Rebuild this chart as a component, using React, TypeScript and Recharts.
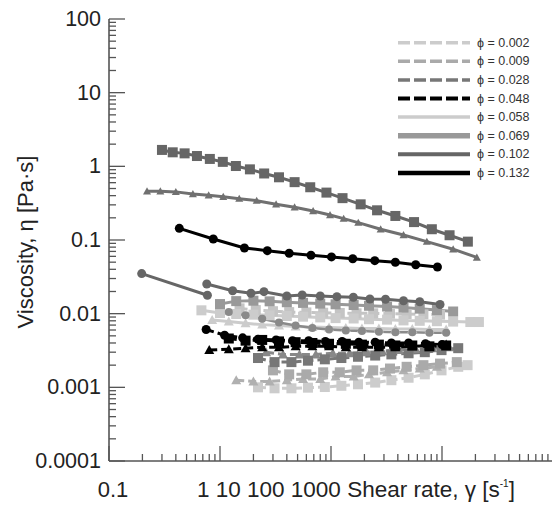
import React from 'react';
import { LineChart, Line, XAxis, YAxis, Legend } from 'recharts';

// shear rate [1/s], viscosity [Pa s]
const phi0102Squares: [number, number][] = [
  [0.3, 1.67], [0.375, 1.55], [0.48, 1.5], [0.62, 1.38], [0.81, 1.26], [1.06, 1.15], [1.39, 1.01],
  [1.86, 0.91], [2.5, 0.8], [3.4, 0.71], [4.7, 0.61], [6.5, 0.52], [9.1, 0.44], [12.7, 0.37],
  [18.5, 0.305], [26, 0.253], [38, 0.212], [56, 0.175], [81, 0.14], [117, 0.116], [171, 0.095],
];
const phi0102Triangles: [number, number][] = [
  [0.22, 0.46], [0.29, 0.46], [0.4, 0.45], [0.57, 0.42], [0.79, 0.405], [1.07, 0.387], [1.49, 0.364],
  [2.14, 0.342], [3.2, 0.305], [4.7, 0.278], [6.9, 0.248], [9.8, 0.218], [13, 0.195], [17.6, 0.172],
  [28, 0.14], [45, 0.117], [73, 0.095], [126, 0.075], [206, 0.058],
];
const phi0132Circles: [number, number][] = [
  [0.43, 0.144], [0.87, 0.103], [1.66, 0.078], [2.67, 0.0716], [4.2, 0.066], [6.6, 0.062],
  [10.1, 0.059], [15.7, 0.0557], [24.8, 0.0524], [38, 0.0498], [58, 0.0462], [91, 0.043],
];
const phi0102CirclesA: [number, number][] = [[0.197, 0.035], [0.77, 0.0178]];
const phi0102CirclesB: [number, number][] = [
  [0.76, 0.0253], [1.3, 0.0205], [1.9, 0.0189], [2.49, 0.0199], [4.0, 0.0174], [5.5, 0.0179],
  [8.0, 0.0174], [11.3, 0.017], [15.9, 0.0167], [22.4, 0.0158], [31, 0.0157], [45, 0.015],
  [63, 0.0145], [96, 0.0133],
];
const phi0069Squares: [number, number][] = [
  [1.0, 0.0135], [1.4, 0.0148], [2.0, 0.015], [2.8, 0.0147], [4.0, 0.0143], [5.6, 0.014], [8, 0.0137],
  [11, 0.0134], [16, 0.0131], [22, 0.0128], [32, 0.0125], [45, 0.0121], [63, 0.0117], [90, 0.0112],
  [126, 0.0107],
];
const phi0069Circles: [number, number][] = [
  [1.2, 0.0105], [1.7, 0.0095], [2.4, 0.0085], [3.4, 0.0076], [4.8, 0.0069], [6.8, 0.0064],
  [9.6, 0.0061], [13.6, 0.0059], [19, 0.0058], [27, 0.0057], [38, 0.0056], [54, 0.0056],
  [77, 0.0055], [109, 0.0055],
];
const phi0058Squares: [number, number][] = [
  [0.68, 0.0111], [1.0, 0.0102], [1.4, 0.0099], [2.0, 0.0097], [2.8, 0.0095], [4.0, 0.0093],
  [5.6, 0.0091], [8, 0.0089], [11, 0.0087], [16, 0.0086], [22, 0.0084], [32, 0.0083], [45, 0.0081],
  [63, 0.008], [90, 0.0079], [126, 0.0078], [180, 0.0077], [215, 0.0077],
];
const phi0058Triangles: [number, number][] = [
  [0.85, 0.0082], [1.2, 0.0078], [1.7, 0.0074], [2.4, 0.0071], [3.4, 0.0069], [4.8, 0.0067],
  [6.8, 0.0066], [9.6, 0.0065], [13.6, 0.0064], [19, 0.0063], [27, 0.0063], [38, 0.0062],
  [54, 0.0062], [77, 0.0061], [109, 0.0061],
];
const phi0009SquaresHigh: [number, number][] = [
  [1.5, 0.0118], [2.1, 0.0112], [3.0, 0.0108], [4.2, 0.0105], [6.0, 0.0104], [8.5, 0.0103],
  [12, 0.0102], [17, 0.0101], [24, 0.0101], [34, 0.01], [48, 0.0099], [68, 0.0098], [96, 0.0097],
];
const phi0048Circles: [number, number][] = [
  [0.75, 0.0061], [1.1, 0.0051], [1.6, 0.0047], [2.2, 0.0045], [3.2, 0.0044], [4.5, 0.0043],
  [6.3, 0.0043], [8.9, 0.0042], [12.6, 0.0042], [17.8, 0.0041], [25, 0.0041], [35, 0.004],
  [50, 0.004], [71, 0.0039], [100, 0.0038],
];
const phi0048Squares: [number, number][] = [
  [1.2, 0.0046], [1.7, 0.0043], [2.4, 0.0044], [3.4, 0.0042], [4.8, 0.0041], [6.8, 0.004],
  [9.6, 0.0039], [13.6, 0.0039], [19, 0.0038], [27, 0.0038], [38, 0.0037], [54, 0.0037],
  [77, 0.0036], [109, 0.0037],
];
const phi0048Triangles: [number, number][] = [
  [0.8, 0.0032], [1.2, 0.0033], [1.7, 0.0034], [2.4, 0.0035], [3.4, 0.0035], [4.8, 0.0036],
  [6.8, 0.0036], [9.6, 0.0036], [13.6, 0.0035], [19, 0.0035], [27, 0.0035], [38, 0.0035],
  [54, 0.0036], [77, 0.0037], [109, 0.0038],
];
const phi0028Squares: [number, number][] = [
  [2.2, 0.0025], [3.1, 0.0022], [4.4, 0.0022], [6.2, 0.0023], [8.8, 0.0024], [12.4, 0.0025],
  [17.5, 0.0026], [25, 0.0027], [35, 0.0028], [50, 0.0029], [70, 0.003], [99, 0.0032], [140, 0.0034],
];
const phi0028Triangles: [number, number][] = [
  [2.6, 0.003], [3.7, 0.0028], [5.2, 0.0028], [7.3, 0.0028], [10.4, 0.0029], [14.7, 0.0029],
  [21, 0.003], [29, 0.0031], [41, 0.0032], [58, 0.0033], [82, 0.0034], [116, 0.0035],
];
const phi0009Squares: [number, number][] = [
  [3.0, 0.0017], [4.2, 0.0015], [6.0, 0.0015], [8.5, 0.0016], [12, 0.0016], [17, 0.0017],
  [24, 0.0017], [34, 0.0018], [48, 0.0019], [68, 0.002], [96, 0.0021], [136, 0.0022],
];
const phi0009Triangles: [number, number][] = [
  [1.4, 0.00125], [2.0, 0.0012], [2.8, 0.0012], [4.0, 0.00125], [5.6, 0.0013], [8, 0.0013],
  [11, 0.0014], [16, 0.0014], [22, 0.0015], [32, 0.0016], [45, 0.0017], [63, 0.0018], [90, 0.0019],
];
const phi0002Squares: [number, number][] = [
  [2.2, 0.001], [3.1, 0.00097], [4.4, 0.00097], [6.2, 0.00099], [8.8, 0.00101], [12.4, 0.00105],
  [17.5, 0.0011], [25, 0.00116], [35, 0.00125], [50, 0.00135], [70, 0.0015], [99, 0.0017],
  [140, 0.0019], [170, 0.002],
];

const legendLabels = ['ϕ = 0.002', 'ϕ = 0.009', 'ϕ = 0.028', 'ϕ = 0.048', 'ϕ = 0.058', 'ϕ = 0.069', 'ϕ = 0.102', 'ϕ = 0.132'];
const xMajorTicks = [0.1, 1, 10, 100, 1000];
const yMajorTicks = [0.0001, 0.001, 0.01, 0.1, 1, 10, 100];
const yTickLabels = ['0.0001', '0.001', '0.01', '0.1', '1', '10', '100'];

const legendStyles = [
  { color: '#cccccc', dash: '12 4', width: 3.5 },
  { color: '#aaaaaa', dash: '12 4', width: 3.5 },
  { color: '#777777', dash: '12 4', width: 3.5 },
  { color: '#000000', dash: '12 4', width: 4 },
  { color: '#cccccc', dash: undefined, width: 3.5 },
  { color: '#999999', dash: undefined, width: 5.5 },
  { color: '#666666', dash: undefined, width: 4 },
  { color: '#000000', dash: undefined, width: 4.5 },
];

const withMinors = (majors: number[]) => {
  const out: number[] = [];
  majors.forEach((m, i) => {
    out.push(m);
    if (i < majors.length - 1) for (let k = 2; k <= 9; k++) out.push(+(m * k).toPrecision(3));
  });
  return out;
};
const xTicks = withMinors(xMajorTicks);
const yTicks = withMinors(yMajorTicks);
const isMajor = (v: number) => Math.abs(Math.log10(v) - Math.round(Math.log10(v))) < 1e-6;

const AXIS = '#555';
const FONT = '"Liberation Sans", Arial, sans-serif';

const toPts = (d: [number, number][]) => d.map(([x, y]) => ({ x, y }));

type Series = { data: [number, number][]; color: string; dash?: string; width: number; marker: 'sq' | 'tri' | 'circ'; size: number };

const series: Series[] = [
  { data: phi0002Squares, color: '#cccccc', dash: '8 4', width: 3, marker: 'sq', size: 10 },
  { data: phi0009Triangles, color: '#b0b0b0', dash: '8 4', width: 3, marker: 'tri', size: 10 },
  { data: phi0009Squares, color: '#aaaaaa', dash: '8 4', width: 3, marker: 'sq', size: 10 },
  { data: phi0028Triangles, color: '#888888', dash: '8 4', width: 3, marker: 'tri', size: 10 },
  { data: phi0028Squares, color: '#777777', dash: '8 4', width: 3, marker: 'sq', size: 10 },
  { data: phi0058Triangles, color: '#cccccc', width: 3, marker: 'tri', size: 10 },
  { data: phi0009SquaresHigh, color: '#c4c4c4', dash: '8 4', width: 3, marker: 'sq', size: 10 },
  { data: phi0058Squares, color: '#cccccc', width: 3, marker: 'sq', size: 10 },
  { data: phi0069Circles, color: '#8a8a8a', width: 2.5, marker: 'circ', size: 8 },
  { data: phi0069Squares, color: '#999999', width: 3, marker: 'sq', size: 10 },
  { data: phi0048Triangles, color: '#000000', dash: '8 4', width: 3, marker: 'tri', size: 10 },
  { data: phi0048Squares, color: '#000000', dash: '8 4', width: 3, marker: 'sq', size: 10 },
  { data: phi0048Circles, color: '#000000', dash: '8 4', width: 3, marker: 'circ', size: 9 },
  { data: phi0102CirclesA, color: '#666666', width: 3, marker: 'circ', size: 9 },
  { data: phi0102CirclesB, color: '#666666', width: 3, marker: 'circ', size: 9 },
  { data: phi0102Triangles, color: '#707070', width: 3, marker: 'tri', size: 8 },
  { data: phi0102Squares, color: '#666666', width: 3, marker: 'sq', size: 10 },
  { data: phi0132Circles, color: '#000000', width: 3, marker: 'circ', size: 9 },
];

const makeDot = (s: Series) => (p: any) => {
  const { cx, cy, index } = p;
  const h = s.size / 2;
  if (cx == null || cy == null) return <g key={index} />;
  if (s.marker === 'sq') return <rect key={index} x={cx - h} y={cy - h} width={s.size} height={s.size} fill={s.color} />;
  if (s.marker === 'tri')
    return <polygon key={index} points={`${cx},${cy - h} ${cx + h},${cy + h * 0.8} ${cx - h},${cy + h * 0.8}`} fill={s.color} />;
  return <circle key={index} cx={cx} cy={cy} r={h} fill={s.color} />;
};

const BottomTick = ({ x, y, payload }: any) => {
  const major = isMajor(payload.value);
  return (
    <g>
      <line x1={x} x2={x} y1={y} y2={y - (major ? 15 : 7)} stroke={AXIS} strokeWidth={1.3} />
      {payload.value === 0.1 && (
        <text x={x + 4} y={y + 36} textAnchor="middle" fontSize={22} fill="#222" fontFamily={FONT}>0.1</text>
      )}
    </g>
  );
};

const TopTick = ({ x, y, payload }: any) => (
  <line x1={x} x2={x} y1={y} y2={y + (isMajor(payload.value) ? 15 : 7)} stroke={AXIS} strokeWidth={1.3} />
);

const LeftTick = ({ x, y, payload }: any) => {
  const major = isMajor(payload.value);
  const idx = yMajorTicks.findIndex((v) => Math.abs(v - payload.value) < v * 1e-6);
  return (
    <g>
      <line x1={x} x2={x + (major ? 16 : 7)} y1={y} y2={y} stroke={AXIS} strokeWidth={1.3} />
      {idx >= 0 && (
        <text x={x - 8} y={y} textAnchor="end" dominantBaseline="central" fontSize={21.5} fill="#222" fontFamily={FONT}>
          {yTickLabels[idx]}
        </text>
      )}
    </g>
  );
};

const RightTick = ({ x, y, payload }: any) => (
  <line x1={x} x2={x - (isMajor(payload.value) ? 15 : 7)} y1={y} y2={y} stroke={AXIS} strokeWidth={1.3} />
);

const XLabel = ({ viewBox }: any) => (
  <text x={viewBox.x + 88} y={viewBox.y + 36} fontSize={22.5} fill="#222" fontFamily={FONT}>
    1 10 100 1000 Shear rate, γ [s
    <tspan fontSize={10} dy={-10}>-1</tspan>
    <tspan dy={10}>]</tspan>
  </text>
);

const YLabel = () => (
  <text x={25} y={242} transform="rotate(-90 25 242)" textAnchor="middle" dominantBaseline="central" fontSize={22} fill="#222" fontFamily={FONT}>
    Viscosity, η [Pa·s]
  </text>
);

const renderLegend = () => (
  <svg width={140} height={150}>
    {legendLabels.map((label, i) => {
      const st = legendStyles[i];
      const y = 8.7 + i * 18.6;
      return (
        <g key={label}>
          <line x1={0} x2={72} y1={y} y2={y} stroke={st.color} strokeWidth={st.width} strokeDasharray={st.dash} />
          <text x={79} y={y} dominantBaseline="central" fontSize={12.5} fill="#333" fontFamily={FONT}>{label}</text>
        </g>
      );
    })}
  </svg>
);

export default function App() {
  return (
    <div style={{ position: 'absolute', left: 0, top: 0, width: 552, height: 505, overflow: 'hidden', background: '#fff' }}>
      <LineChart width={560} height={505} margin={{ top: 19, right: 7, bottom: 0, left: 0 }}>
        <XAxis
          dataKey="x"
          type="number"
          scale="log"
          domain={[0.1, 1000]}
          allowDataOverflow
          ticks={xTicks}
          interval={0}
          height={44}
          tickSize={0}
          tickMargin={0}
          tick={<BottomTick />}
          tickLine={false}
          axisLine={{ stroke: AXIS, strokeWidth: 1.6 }}
          label={<XLabel />}
        />
        <XAxis
          xAxisId="top"
          orientation="top"
          dataKey="x"
          type="number"
          scale="log"
          domain={[0.1, 1000]}
          allowDataOverflow
          ticks={xTicks}
          interval={0}
          height={0}
          tickSize={0}
          tickMargin={0}
          tick={<TopTick />}
          tickLine={false}
          axisLine={{ stroke: AXIS, strokeWidth: 1.6 }}
        />
        <YAxis
          type="number"
          scale="log"
          domain={[0.0001, 100]}
          allowDataOverflow
          ticks={yTicks}
          interval={0}
          width={109}
          tickSize={0}
          tickMargin={0}
          tick={<LeftTick />}
          tickLine={false}
          axisLine={{ stroke: AXIS, strokeWidth: 1.6 }}
          label={<YLabel />}
        />
        <YAxis
          yAxisId="right"
          orientation="right"
          type="number"
          scale="log"
          domain={[0.0001, 100]}
          allowDataOverflow
          ticks={yTicks}
          interval={0}
          width={0}
          tickSize={0}
          tickMargin={0}
          tick={<RightTick />}
          tickLine={false}
          axisLine={false}
        />
        <Legend
          layout="vertical"
          align="center"
          verticalAlign="middle"
          content={renderLegend}
          wrapperStyle={{ position: 'absolute', left: 398, top: 34, width: 140, height: 150 }}
        />
        {series.map((s, i) => (
          <Line
            key={i}
            data={toPts(s.data)}
            dataKey="y"
            stroke={s.color}
            strokeWidth={s.width}
            strokeDasharray={s.dash}
            dot={makeDot(s)}
            activeDot={false}
            isAnimationActive={false}
            type="linear"
          />
        ))}
      </LineChart>
    </div>
  );
}
